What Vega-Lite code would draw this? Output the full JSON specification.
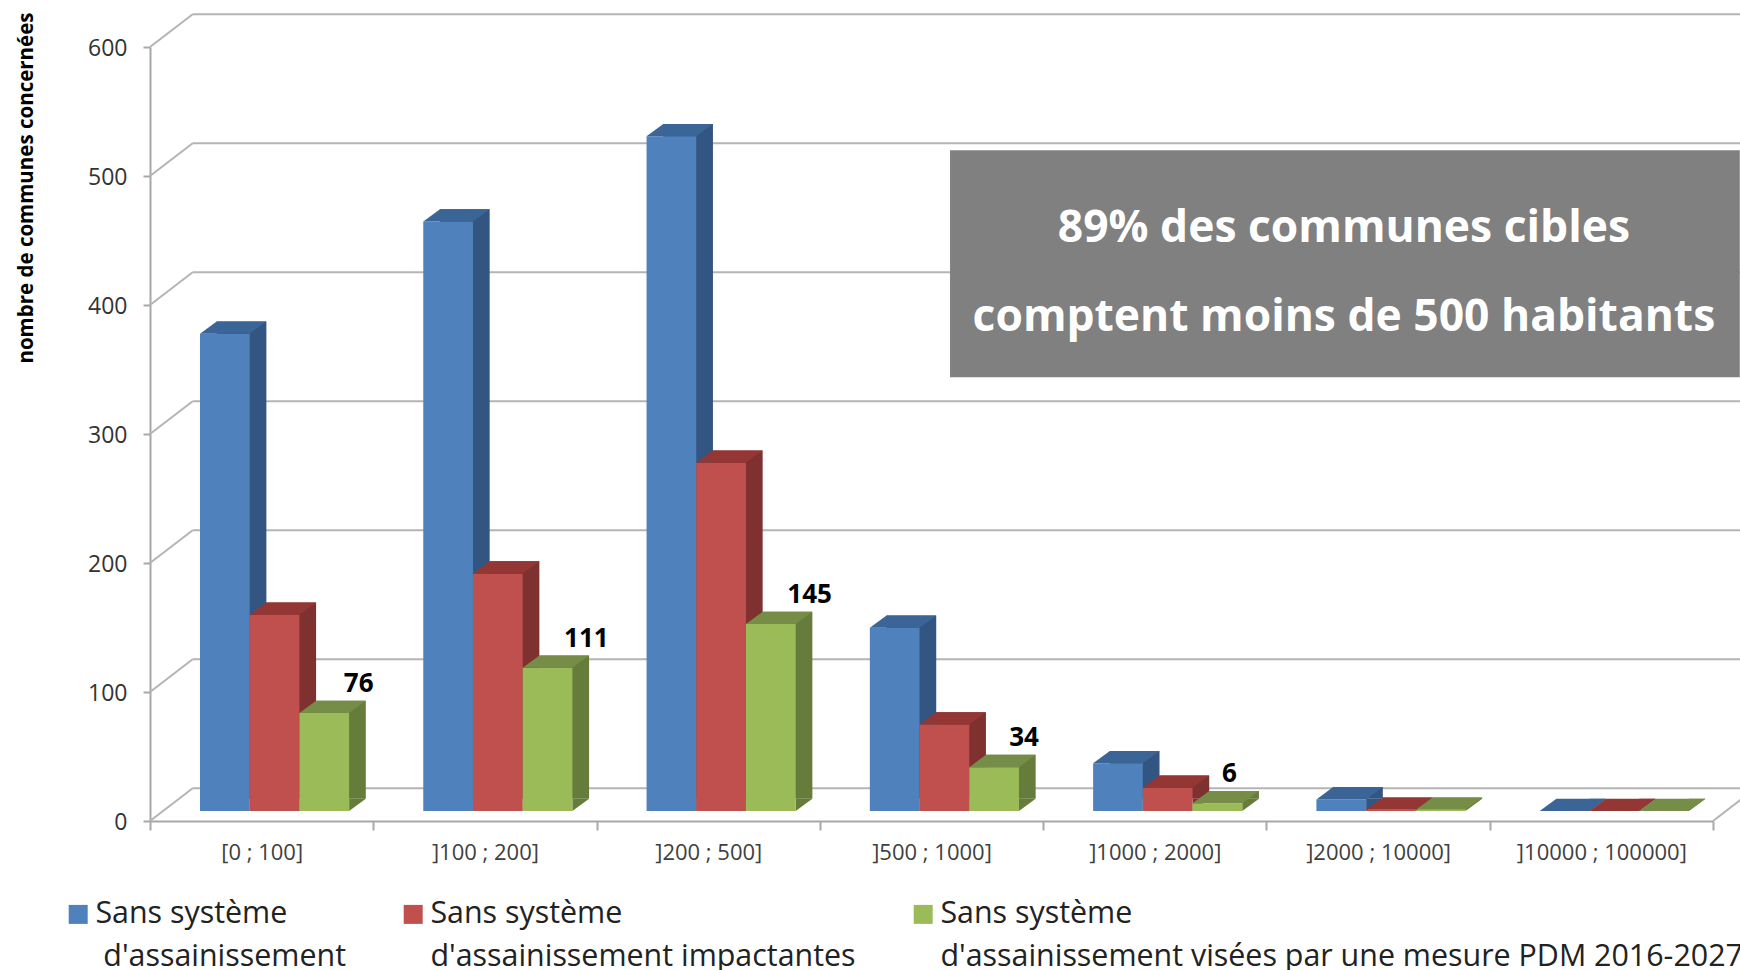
{"$schema":"https://vega.github.io/schema/vega-lite/v6.json","width":1563,"height":774,"autosize":{"type":"none"},"padding":{"left":150,"top":47,"right":27,"bottom":149},"background":"white","config":{"view":{"stroke":null},"font":"Open Sans","style":{"guide-label":{"lineHeight":43}}},
"datasets":{"d":[
{"cat":"[0 ; 100]","serie":"A","v":370},{"cat":"[0 ; 100]","serie":"B","v":152},{"cat":"[0 ; 100]","serie":"C","v":76},
{"cat":"]100 ; 200]","serie":"A","v":457},{"cat":"]100 ; 200]","serie":"B","v":184},{"cat":"]100 ; 200]","serie":"C","v":111},
{"cat":"]200 ; 500]","serie":"A","v":523},{"cat":"]200 ; 500]","serie":"B","v":270},{"cat":"]200 ; 500]","serie":"C","v":145},
{"cat":"]500 ; 1000]","serie":"A","v":142},{"cat":"]500 ; 1000]","serie":"B","v":67},{"cat":"]500 ; 1000]","serie":"C","v":34},
{"cat":"]1000 ; 2000]","serie":"A","v":37},{"cat":"]1000 ; 2000]","serie":"B","v":18},{"cat":"]1000 ; 2000]","serie":"C","v":6},
{"cat":"]2000 ; 10000]","serie":"A","v":9},{"cat":"]2000 ; 10000]","serie":"B","v":1},{"cat":"]2000 ; 10000]","serie":"C","v":1},
{"cat":"]10000 ; 100000]","serie":"A","v":0},{"cat":"]10000 ; 100000]","serie":"B","v":0},{"cat":"]10000 ; 100000]","serie":"C","v":0}],
"ticks":[{"t":0},{"t":100},{"t":200},{"t":300},{"t":400},{"t":500},{"t":600}],
"note":[{"x0":3.583,"x1":7.12,"y0":520,"y1":344}],
"noteText":[{"x":5.347,"y":458.8,"txt":"89% des communes cibles"},{"x":5.347,"y":389.8,"txt":"comptent moins de 500 habitants"}]},
"resolve":{"scale":{"x":"independent","color":"independent","xOffset":"independent"}},
"layer":[
{"data":{"name":"ticks"},"mark":{"type":"rule","color":"#b4b4b4","strokeWidth":2,"yOffset":-32.7},"encoding":{"x":{"datum":0.191,"type":"quantitative","scale":{"domain":[0,7],"nice":false,"zero":false},"axis":null},"x2":{"datum":7.3},"y":{"field":"t","type":"quantitative","scale":{"domain":[0,600],"nice":false},"axis":{"values":[0,100,200,300,400,500,600],"grid":false,"domainColor":"#a8a8a8","domainWidth":2,"tickColor":"#a8a8a8","tickWidth":2,"tickSize":7,"labelFont":"Open Sans","labelFontSize":23,"labelColor":"#333333","labelPadding":16,"labelOffset":1,"title":"nombre de communes concernées","titleFont":"Open Sans","titleFontSize":20.5,"titleFontWeight":"bold","titleColor":"#000000","titleAlign":"right","titleX":-114,"titleY":-35}}}},
{"data":{"name":"ticks"},"mark":{"type":"point","shape":"M0,0 L42.7,-32.7","filled":false,"size":4,"opacity":1,"color":"#b4b4b4","strokeWidth":2},"encoding":{"x":{"value":0},"y":{"field":"t","type":"quantitative"}}},
{"data":{"values":[{"t":0}]},"mark":{"type":"point","shape":"M0,0 L42.7,-32.7","filled":false,"size":4,"opacity":1,"color":"#b4b4b4","strokeWidth":2},"encoding":{"x":{"value":1563},"y":{"field":"t","type":"quantitative"}}},
{"data":{"name":"d"},"mark":{"type":"bar","yOffset":-22.3},"encoding":{
"x":{"field":"cat","type":"nominal","sort":null,"scale":{"paddingInner":0,"paddingOuter":0},"axis":{"title":null,"labelAngle":0,"labelFont":"Open Sans","labelFontSize":22,"labelColor":"#404040","labelPadding":12,"tickBand":"extent","tickSize":9,"tickColor":"#a8a8a8","tickWidth":2,"domainColor":"#a8a8a8","domainWidth":2}},
"xOffset":{"field":"serie","type":"nominal","scale":{"domain":["A","B","C"],"paddingInner":0,"paddingOuter":0.746,"align":0.899}},
"y":{"field":"v","type":"quantitative","stack":null},"y2":{"datum":17.3},
"color":{"field":"serie","type":"nominal","scale":{"domain":["A","B","C"],"range":["#335581","#7f3130","#667c3a"]},"legend":null}}},
{"data":{"name":"d"},"mark":{"type":"point","shape":"M24.85,0 L41.55,-12.3 L24.85,-12.3 Z","filled":true,"size":4,"opacity":1,"strokeWidth":0,"yOffset":-10},"encoding":{
"x":{"field":"cat","type":"nominal","sort":null,"scale":{"type":"band","paddingInner":0,"paddingOuter":0},"axis":null},
"xOffset":{"field":"serie","type":"nominal","scale":{"type":"band","domain":["A","B","C"],"paddingInner":0,"paddingOuter":0.746,"align":0.674}},
"y":{"datum":0,"type":"quantitative"},
"color":{"field":"serie","type":"nominal","scale":{"domain":["A","B","C"],"range":["#335581","#7f3130","#667c3a"]},"legend":null}}},
{"data":{"name":"d"},"mark":{"type":"bar","yOffset":-10},"encoding":{
"x":{"field":"cat","type":"nominal","sort":null,"scale":{"paddingInner":0,"paddingOuter":0},"axis":null},
"xOffset":{"field":"serie","type":"nominal","scale":{"domain":["A","B","C"],"paddingInner":0,"paddingOuter":0.746,"align":0.674}},
"y":{"field":"v","type":"quantitative","stack":null},"y2":{"datum":7.75},
"color":{"field":"serie","type":"nominal","title":null,"scale":{"domain":["A","B","C"],"range":["#4f81bd","#c0504d","#9bbb59"]},
"legend":{"orient":"none","legendX":-87,"legendY":852,"columns":3,"direction":"horizontal","columnPadding":52,"symbolType":"square","symbolSize":361,"symbolStrokeWidth":0,"labelFont":"Open Sans","labelFontSize":30.4,"labelColor":"#222222","labelOffset":2,"labelLimit":0,"labelExpr":"datum.label=='A'?['Sans système','\u200b\u00a0d\\u0027assainissement']:datum.label=='B'?['Sans système','d\\u0027assainissement impactantes']:['Sans système','d\\u0027assainissement visées par une mesure PDM 2016-2027']"}}}},
{"data":{"name":"d"},"mark":{"type":"point","shape":"M-24.85,0 L24.85,0 L41.55,-12.3 L-8.15,-12.3 Z","filled":true,"size":4,"opacity":1,"strokeWidth":0,"yOffset":-10},"encoding":{
"x":{"field":"cat","type":"nominal","sort":null,"scale":{"type":"band","paddingInner":0,"paddingOuter":0},"axis":null},
"xOffset":{"field":"serie","type":"nominal","scale":{"type":"band","domain":["A","B","C"],"paddingInner":0,"paddingOuter":0.746,"align":0.674}},
"y":{"field":"v","type":"quantitative"},
"color":{"field":"serie","type":"nominal","scale":{"domain":["A","B","C"],"range":["#3a6596","#933634","#768d47"]},"legend":null}}},
{"data":{"name":"d"},"transform":[{"filter":"datum.serie=='C' && datum.v>=5"}],"mark":{"type":"text","font":"Open Sans","fontWeight":"bold","fontSize":26,"color":"#000000","dx":{"expr":"datum.v>100?38.8:datum.v>50?34.4:datum.v>20?30:12"},"yOffset":-31,"baseline":"alphabetic"},"encoding":{
"x":{"field":"cat","type":"nominal","sort":null,"scale":{"type":"band","domain":["[0 ; 100]","]100 ; 200]","]200 ; 500]","]500 ; 1000]","]1000 ; 2000]","]2000 ; 10000]","]10000 ; 100000]"],"paddingInner":0,"paddingOuter":0},"axis":null},
"xOffset":{"field":"serie","type":"nominal","scale":{"type":"band","domain":["A","B","C"],"paddingInner":0,"paddingOuter":0.746,"align":0.674}},
"y":{"field":"v","type":"quantitative"},
"text":{"field":"v","type":"quantitative"}}},
{"data":{"name":"note"},"mark":{"type":"rect","color":"#808080"},"encoding":{"x":{"field":"x0","type":"quantitative","scale":{"domain":[0,7],"nice":false,"zero":false},"axis":null},"x2":{"field":"x1"},"y":{"field":"y0","type":"quantitative"},"y2":{"field":"y1"}}},
{"data":{"name":"noteText"},"mark":{"type":"text","font":"Open Sans","fontWeight":"bold","fontSize":44.4,"color":"#ffffff","align":"center","baseline":"middle"},"encoding":{"x":{"field":"x","type":"quantitative","scale":{"domain":[0,7],"nice":false,"zero":false},"axis":null},"y":{"field":"y","type":"quantitative"},"text":{"field":"txt","type":"nominal"}}}
]}
